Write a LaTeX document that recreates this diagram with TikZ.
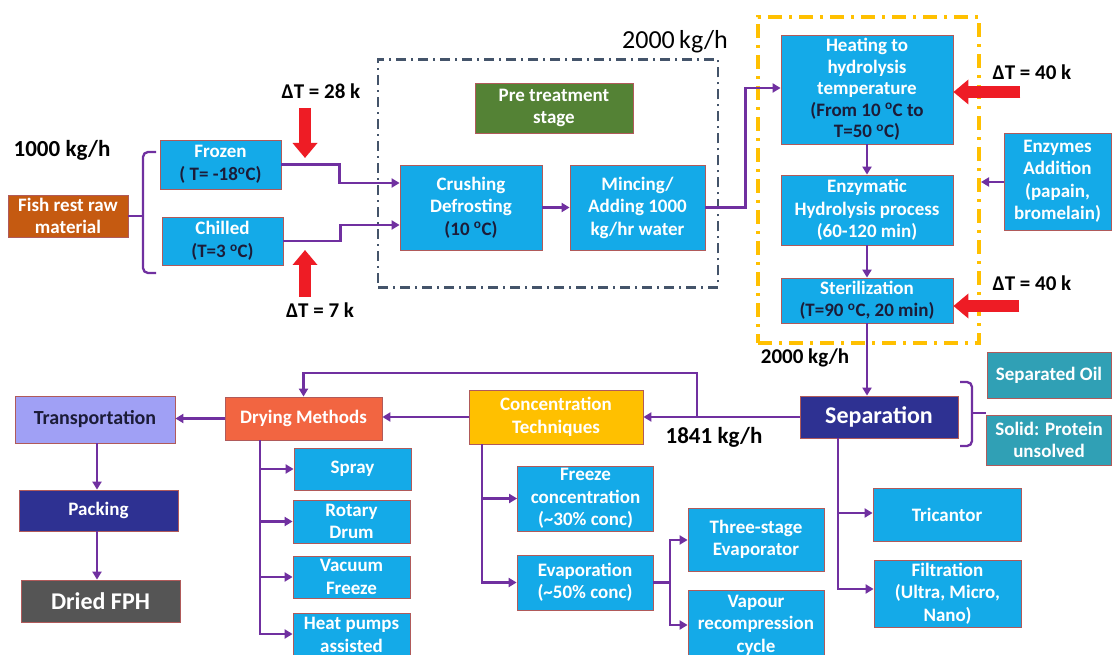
\documentclass[tikz,border=0pt]{standalone}
\usepackage{fontspec}
\setmainfont{Carlito}
\usetikzlibrary{arrows.meta}
\definecolor{bx}{HTML}{14AAE8}
\definecolor{bord}{HTML}{B05A5A}
\definecolor{dk}{HTML}{1C1C38}
\definecolor{fishc}{HTML}{C55A11}
\definecolor{greenc}{HTML}{548235}
\definecolor{navy}{HTML}{2E3192}
\definecolor{dryc}{HTML}{F26541}
\definecolor{concc}{HTML}{FFC000}
\definecolor{transc}{HTML}{A0A0F5}
\definecolor{grayc}{HTML}{555555}
\definecolor{teal}{HTML}{30A0B5}
\definecolor{pur}{HTML}{7030A0}
\definecolor{rd}{HTML}{EE1C25}
\definecolor{bluegray}{HTML}{44546A}
\definecolor{yel}{HTML}{FFC000}
\begin{document}
\begin{tikzpicture}[x=1pt,y=-1pt,
  box/.style={draw=bord, line width=0.8pt, fill=bx, text=white,
    font=\bfseries\fontsize{19}{22.5}\selectfont, align=center, inner sep=0pt},
  conn/.style={draw=pur, line width=2.3pt, -{Triangle[length=8pt,width=9pt]}},
  pline/.style={draw=pur, line width=2.3pt},
  redarr/.style={draw=rd, line width=12pt, -{Triangle[length=15pt,width=24pt]}},
  lbl/.style={font=\bfseries\fontsize{21}{24}\selectfont, inner sep=0pt, text=black},
  brc/.style={draw=pur, line width=2.3pt, rounded corners=5pt}
]
\useasboundingbox (0,0) rectangle (1112,655);
\fill[white] (0,0) rectangle (1112,655);

% stage frames
\node[draw=bluegray, line width=2.5pt, dash pattern=on 10pt off 5pt on 2pt off 5pt,
  minimum width=340pt, minimum height=228pt, inner sep=0pt] (pbox) at (548,173.5) {};
\node[draw=yel, line width=4pt, dash pattern=on 14pt off 7pt on 3pt off 7pt,
  minimum width=221pt, minimum height=326pt, inner sep=0pt] (ybox) at (868.5,180) {};

% nodes
\node[box, fill=fishc, minimum width=120pt, minimum height=42pt] (fish) at (68,216) {Fish rest raw\\material};
\node[box, minimum width=121pt, minimum height=49pt] (frozen) at (220.5,164.5) {Frozen\\{\color{dk}( T= -18\textsuperscript{o}C)}};
\node[box, minimum width=121pt, minimum height=48pt] (chilled) at (222.5,241) {Chilled\\{\color{dk}(T=3 \textsuperscript{o}C)}};
\node[box, fill=greenc, minimum width=158pt, minimum height=50pt] (pre) at (554,108) {Pre treatment\\stage};
\node[box, minimum width=142pt, minimum height=85pt] (crush) at (471,207.5) {Crushing\\Defrosting\\{\color{dk}(10 \textsuperscript{o}C)}};
\node[box, minimum width=135pt, minimum height=85pt] (mince) at (637.5,207.5) {Mincing/\\Adding 1000\\kg/hr water};
\node[box, minimum width=172pt, minimum height=109pt, font=\bfseries\fontsize{19}{21.5}\selectfont] (heat) at (867,89.5) {Heating to\\hydrolysis\\temperature\\{\color{dk}(From 10 \textsuperscript{o}C to}\\{\color{dk}T=50 \textsuperscript{o}C)}};
\node[box, minimum width=172pt, minimum height=70pt] (enzy) at (867,210) {Enzymatic\\Hydrolysis process\\(60-120 min)};
\node[box, minimum width=172pt, minimum height=45pt] (steril) at (867,300.5) {Sterilization\\{\color{dk}(T=90 \textsuperscript{o}C, 20 min)}};
\node[box, minimum width=107pt, minimum height=97pt] (enzadd) at (1057.5,181.5) {Enzymes\\Addition\\(papain,\\bromelain)};
\node[box, fill=navy, minimum width=158pt, minimum height=42pt, font=\bfseries\fontsize{24}{27}\selectfont] (sep) at (879,417) {Separation};
\node[box, fill=teal, minimum width=124pt, minimum height=46pt] (oil) at (1049,375) {Separated Oil};
\node[box, fill=teal, minimum width=125pt, minimum height=50pt] (solid) at (1049,440) {Solid: Protein\\unsolved};
\node[box, minimum width=148pt, minimum height=53pt] (tric) at (947,514.5) {Tricantor};
\node[box, minimum width=147pt, minimum height=67pt] (filt) at (947.5,593.5) {Filtration\\(Ultra, Micro,\\Nano)};
\node[box, fill=concc, minimum width=174pt, minimum height=54pt] (conc) at (556,417) {Concentration\\Techniques};
\node[box, fill=dryc, minimum width=157pt, minimum height=43pt] (dry) at (303.5,418.5) {Drying Methods};
\node[box, fill=transc, text=dk, minimum width=160pt, minimum height=47pt, font=\bfseries\fontsize{20}{23}\selectfont] (trans) at (95,419.5) {Transportation};
\node[box, fill=navy, minimum width=159pt, minimum height=41pt] (pack) at (98.5,510.5) {Packing};
\node[box, fill=grayc, minimum width=159pt, minimum height=42pt, font=\bfseries\fontsize{24}{27}\selectfont] (dried) at (100.5,601) {Dried FPH};
\node[box, minimum width=117pt, minimum height=42pt] (spray) at (352.5,469) {Spray};
\node[box, minimum width=117pt, minimum height=43pt] (rotary) at (351.5,521.5) {Rotary\\Drum};
\node[box, minimum width=117pt, minimum height=42pt] (vacuum) at (351.5,577) {Vacuum\\Freeze};
\node[box, minimum width=117pt, minimum height=44pt] (heatp) at (351.5,635) {Heat pumps\\assisted};
\node[box, minimum width=136pt, minimum height=65pt] (freeze) at (585.5,498.5) {Freeze\\concentration\\(\textasciitilde 30\% conc)};
\node[box, minimum width=136pt, minimum height=55pt] (evap) at (585,582.5) {Evaporation\\(\textasciitilde 50\% conc)};
\node[box, minimum width=136pt, minimum height=63pt] (three) at (756,539.5) {Three-stage\\Evaporator};
\node[box, minimum width=136pt, minimum height=70pt] (vapour) at (756,625) {Vapour\\recompression\\cycle};

% labels
\node[lbl, font=\bfseries\fontsize{23}{26}\selectfont] (kg1) at (62,150) {1000 kg/h};
\node[lbl] (dt1) at (321,91) {ΔT = 28 k};
\node[lbl] (dt2) at (320,310) {ΔT = 7 k};
\node[lbl, font=\fontsize{26}{29}\selectfont] (kg2) at (675,42) {2000\,kg/h};
\node[lbl] (dt3) at (1032,72) {ΔT = 40 k};
\node[lbl] (dt4) at (1032,283) {ΔT = 40 k};
\node[lbl] (kg3) at (805,358) {2000 kg/h};
\node[lbl, font=\bfseries\fontsize{23}{26}\selectfont] (kg4) at (714,437) {1841 kg/h};

% braces
\coordinate (lbt) at (156,152);
\coordinate (lbb) at (156,273);
\draw[brc] (lbt) -- (143,152) -- (143,273) -- (lbb);
\draw[pline] (fish.east) -- (143,216);
\coordinate (rbt) at (960,382);
\coordinate (rbb) at (960,446);
\draw[brc] (rbt) -- (972,382) -- (972,446) -- (rbb);
\draw[pline] (972,413) -- (solid.north west |- 0,413);

% connectors top
\draw[conn] (frozen.east) -- ++(58,0) |- (crush.west |- 0,183);
\draw[conn] (chilled.east) -- ++(57,0) |- (crush.west |- 0,225);
\draw[conn] (crush) -- (mince);
\draw[conn] (mince.east) -- ++(40,0) |- (heat.west |- 0,88);
\draw[conn] (heat) -- (enzy);
\draw[conn] (enzy) -- (steril);
\draw[conn] (enzadd.west |- 0,182) -- (ybox.east |- 0,182);
\draw[conn] (steril.south) -- (steril.south |- sep.north);

% connectors bottom
\draw[conn] (sep.west) -- (conc.east);
\coordinate (jn) at (697,417);
\draw[conn] (jn) -- (jn |- 0,373) -| (dry.north);
\draw[conn] (conc.west) -- (conc.west -| dry.east);
\draw[conn] (dry.west) -- (dry.west -| trans.east);
\draw[conn] (trans.south -| 97,0) -- (pack.north -| 97,0);
\draw[conn] (pack.south -| 97,0) -- (dried.north -| 97,0);
\draw[conn] (dry.south -| 260,0) |- (spray.west);
\draw[conn] (dry.south -| 260,0) |- (rotary.west);
\draw[conn] (dry.south -| 260,0) |- (vacuum.west);
\draw[conn] (dry.south -| 260,0) |- (heatp.west |- 0,634);
\draw[conn] (conc.south -| 482,0) |- (freeze.west);
\draw[conn] (conc.south -| 482,0) |- (evap.west);
\draw[conn] (evap.east) -- (670,582.5) |- (three.west |- 0,540);
\draw[conn] (evap.east) -- (670,582.5) |- (vapour.west |- 0,625);
\draw[conn] (sep.south -| 838,0) |- (tric.west |- 0,513);
\draw[conn] (sep.south -| 838,0) |- (filt.west |- 0,589);

% red heat arrows
\coordinate (r1) at (305,108);
\coordinate (r1e) at (305,158);
\coordinate (r2) at (305,297);
\coordinate (r2e) at (305,250);
\draw[redarr] (r1) -- (r1e);
\draw[redarr] (r2) -- (r2e);
\draw[redarr] ([xshift=67pt]heat.east |- 0,92) -- (heat.east |- 0,92);
\draw[redarr] ([xshift=66pt]steril.east |- 0,306) -- (steril.east |- 0,306);
\end{tikzpicture}
\end{document}
